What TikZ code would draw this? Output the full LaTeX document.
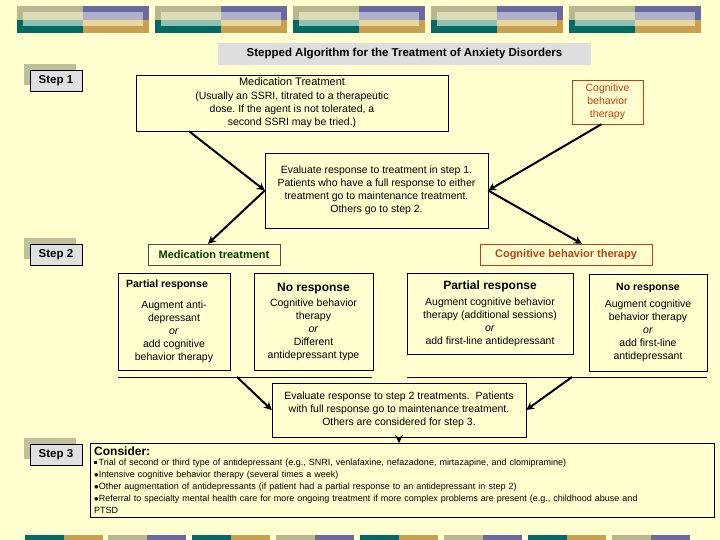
\documentclass[tikz,border=0pt]{standalone}
\usepackage{fontspec}
\setmainfont{Liberation Sans}
\usetikzlibrary{positioning,arrows.meta}
\definecolor{bgy}{RGB}{255,255,208}
\definecolor{tanb}{RGB}{184,184,144}
\definecolor{tanl}{RGB}{220,220,184}
\definecolor{purb}{RGB}{106,106,160}
\definecolor{purl}{RGB}{176,176,200}
\definecolor{tealb}{RGB}{0,106,100}
\definecolor{teall}{RGB}{144,192,176}
\definecolor{goldb}{RGB}{200,160,80}
\definecolor{goldl}{RGB}{232,216,160}
\definecolor{cbtred}{RGB}{200,60,20}
\definecolor{medgreen}{RGB}{0,60,0}

\begin{document}
\begin{tikzpicture}[x=1pt,y=-1pt,
	boxb/.style={
	  draw=black,
	  fill=bgy,
	  font=\fontsize{10.5}{13}\selectfont,
	  align=center,
	  inner sep=2pt
	},
	stepb/.style={
	  draw=black,
	  fill=black!12,
	  font=\fontsize{11.5}{12}\selectfont\bfseries,
	  minimum width=52pt,
	  minimum height=21pt
	},
	shadowb/.style={
	  fill=tanb!90!white,
	  minimum width=52pt,
	  minimum height=21pt
	},
	arr/.style={
	  line width=2pt,
	  -{Stealth[length=8pt,width=8pt]}
	}]

	% page and bands
	\fill[bgy] (0,0) rectangle (720,540);
	\foreach \bx in {17,155,293,431,569} {
	  \fill[tanb] (\bx,6) rectangle ++(66,14);
	  \fill[purb] (\bx+66,6) rectangle ++(66,14);
	  \fill[tealb] (\bx,20) rectangle ++(66,13);
	  \fill[goldb] (\bx+66,20) rectangle ++(66,13);
	  \fill[tanl] (\bx+6,12) rectangle ++(60,8);
	  \fill[purl] (\bx+66,12) rectangle ++(60,8);
	  \fill[teall] (\bx+6,20) rectangle ++(60,6);
	  \fill[goldl] (\bx+66,20) rectangle ++(60,6);
	}
	\foreach \bx/\ca/\cb in {25/tealb/goldb,108/tanb/purb,192/tealb/goldb,276/tanb/purb,
	  360/tealb/goldb,444/tanb/purb,528/tealb/goldb,612/tanb/purb} {
	  \fill[\ca] (\bx,535) rectangle ++(39,5);
	  \fill[\cb] (\bx+39,535) rectangle ++(39,5);
	}

	\node[fill=black!13,minimum width=373pt,minimum height=22pt,
	  font=\fontsize{11.5}{12}\selectfont\bfseries] (Title) at (404.5,54) {Stepped Algorithm for the Treatment of Anxiety Disorders};

	% step labels
	\foreach \sy/\sn in {81/1,254.5/2,454.5/3} {
	  \node[shadowb] at (50,\sy-6) {};
	  \node[stepb] (Step\sn) at (56,\sy) {Step \sn};
	}

	% step 1
	\node[boxb,minimum width=312pt,minimum height=56pt] (MedT) at (292,103)
	  {\fontsize{11}{13}\selectfont Medication Treatment\\[1pt]
	   (Usually an SSRI, titrated to a therapeutic\\ dose.\ If the agent is not tolerated, a\\ second SSRI may be tried.)};
	\node[boxb,draw=cbtred,text=cbtred,minimum width=71pt,minimum height=44pt] (CbtT) at (607.5,102)
	  {Cognitive\\behavior\\therapy};
	\node[boxb,minimum width=223pt,minimum height=75pt] (Eval1) at (376.5,190.5)
	  {Evaluate response to treatment in step 1.\\ Patients who have a full response to either\\ treatment go to maintenance treatment.\\ Others go to step 2.};

	% step 2
	\node[boxb,draw=black!70,text=medgreen,minimum width=132pt,minimum height=21pt,
	  font=\fontsize{11}{12}\selectfont\bfseries] (MedS) at (214,254.5) {Medication treatment};
	\node[boxb,draw=cbtred,text=cbtred,minimum width=172pt,minimum height=21pt,
	  font=\fontsize{11}{12}\selectfont\bfseries] (CbtS) at (566,254.5) {Cognitive behavior therapy};

	\node[boxb,minimum width=112pt,minimum height=97pt,anchor=north] (PartA) at (174,273)
	  {\hspace*{-14pt}\textbf{Partial response}\\[8pt] Augment anti-\\ depressant\\ \textit{or}\\ add cognitive\\ behavior therapy};
	\node[boxb,minimum width=119pt,minimum height=97pt,anchor=north] (NoA) at (313.5,273)
	  {{\fontsize{12}{13}\selectfont\textbf{No response}}\\[2pt] Cognitive behavior\\ therapy\\ \textit{or}\\ Different\\ antidepressant type};
	\node[boxb,minimum width=166pt,minimum height=81pt,anchor=north] (PartB) at (490,273)
	  {{\fontsize{12}{13}\selectfont\textbf{Partial response}}\\[3pt] Augment cognitive behavior\\ therapy (additional sessions)\\ \textit{or}\\ add first-line antidepressant};
	\node[boxb,minimum width=118pt,minimum height=97pt,anchor=north] (NoB) at (648,274)
	  {\textbf{No response}\\[4pt] Augment cognitive\\ behavior therapy\\ \textit{or}\\ add first-line\\ antidepressant};

	\coordinate (LineA) at (237,377);
	\coordinate (LineB) at (572,377);
	\draw[line width=0.8pt] (118,377) -- (372,377);
	\draw[line width=0.8pt] (407,377) -- (707,377);

	\node[boxb,minimum width=254pt,minimum height=54pt] (Eval2) at (399,410)
	  {Evaluate response to step 2 treatments.\ \ Patients\\ with full response go to maintenance treatment.\\ Others are considered for step 3.};

	% step 3
	\node[boxb,minimum width=624pt,minimum height=74pt,anchor=north west,align=left,
	  text width=616pt,font=\fontsize{9}{12}\selectfont] (Consider) at (90,443)
	  {{\fontsize{12}{13}\selectfont\textbf{Consider:}}\\[-2pt]
	   \rule[2pt]{3pt}{3pt}\,Trial of second or third type of antidepressant (e.g., SNRI, venlafaxine, nefazadone, mirtazapine, and clomipramine)\\
	   $\bullet$Intensive cognitive behavior therapy (several times a week)\\
	   $\bullet$Other augmentation of antidepressants (if patient had a partial response to an antidepressant in step 2)\\
	   $\bullet$Referral to specialty mental health care for more ongoing treatment if more complex problems are present (e.g., childhood abuse and\\ PTSD};

	% arrows
	\draw[arr] ([xshift=-103pt]MedT.south) -- (Eval1.west);
	\draw[arr] ([xshift=-6pt]CbtT.south) -- (Eval1.east);
	\draw[arr] (Eval1.west) -- ([xshift=-6pt]MedS.north);
	\draw[arr] (Eval1.east) -- ([xshift=16pt]CbtS.north);
	\draw[arr] (LineA) -- (Eval2.west);
	\draw[arr] (LineB) -- (Eval2.east);
	\draw[arr] (Eval2.south) -- (Consider.north -| Eval2.south);

	\useasboundingbox (0,0) rectangle (720,540);
\end{tikzpicture}
\end{document}
